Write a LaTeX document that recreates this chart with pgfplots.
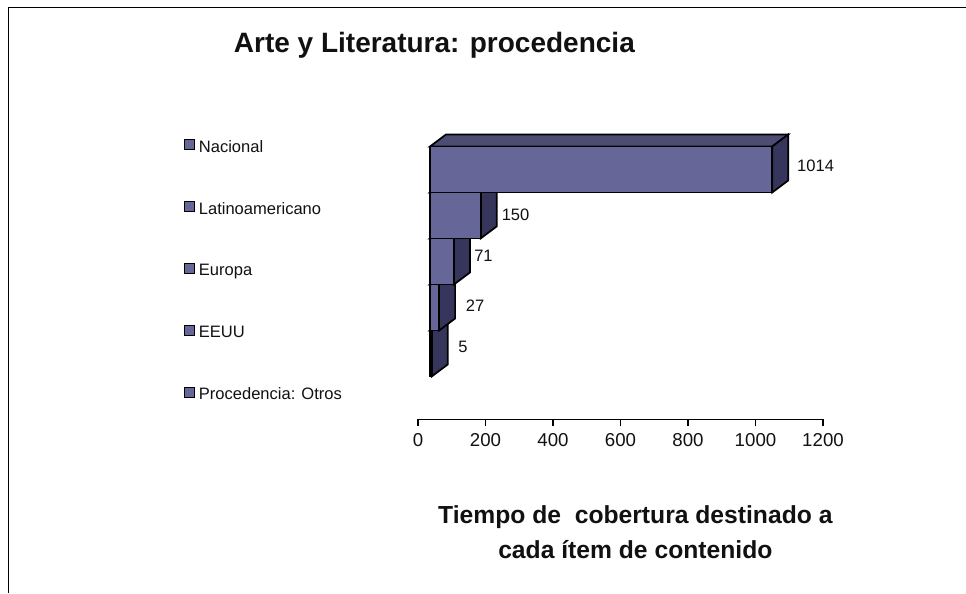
\documentclass[border=0pt]{standalone}
\usepackage{pgfplots}
\pgfplotsset{compat=1.18}
\usepackage{fontspec}
\setmainfont{Liberation Sans}
\definecolor{barfront}{HTML}{666699}
\definecolor{barside}{HTML}{36365C}
\definecolor{bartop}{HTML}{4D4D73}
\definecolor{txt}{HTML}{111111}
\begin{document}
\begin{tikzpicture}
\useasboundingbox (0pt,0pt) rectangle (724.5pt,-444.75pt);
\draw[black,line width=1.3pt] (6.4pt,-444.75pt) -- (6.4pt,-5.6pt) -- (724.5pt,-5.6pt);
\begin{axis}[
  at={(313.5pt,-314.6pt)},anchor=south west,
  scale only axis,width=303.75pt,height=222pt,
  xmin=0,xmax=1200,ymin=-1.4348,ymax=5,
  axis x line=bottom,axis y line=none,
  axis line style={-,black,line width=0.9pt},
  xtick={0,200,400,600,800,1000,1200},
  x tick style={black,line width=0.9pt},
  tick align=outside,
  major tick length=5pt,
  /pgf/number format/assume math mode=true,
  /pgf/number format/1000 sep={},
  tick label style={font=\fontsize{14pt}{16pt}\selectfont,text=txt},
  xticklabel style={yshift=-1.7pt},
  clip=false,
  legend style={at={(-0.5876,0.963)},anchor=north west,draw=none,fill=none,
    font=\fontsize{12.4pt}{14pt}\selectfont,text=txt,
    row sep=32.2pt,cells={anchor=west}},
  legend cell align=left,
  sqr/.style={legend image code/.code={\draw[fill=barfront,draw=black,line width=0.9pt] (0pt,-1.9pt) rectangle (7.5pt,5.6pt);\path[draw=none,fill=none] (0pt,0pt) -- (8.5pt,0pt);}},
]
% polygons: bar value + 35.6 offset of front face; depth 47.4 in x, 0.261 in y
\pgfplotsset{
  front/.style={fill=barfront,draw=black,line width=1.3pt,forget plot},
  side/.style={fill=barside,draw=black,line width=1.3pt,forget plot},
  top/.style={fill=bartop,draw=black,line width=1.3pt,forget plot},
}
% Procedencia: Otros = 5
\addplot[top]  coordinates {(35.6,0.5)(83,0.761)(88,0.761)(40.6,0.5)} -- cycle;
\addplot[side] coordinates {(40.6,0.5)(88,0.761)(88,-0.239)(40.6,-0.5)} -- cycle;
\addplot[front] coordinates {(35.6,0.5)(40.6,0.5)(40.6,-0.5)(35.6,-0.5)} -- cycle;
% EEUU = 27
\addplot[top]  coordinates {(35.6,1.5)(83,1.761)(110,1.761)(62.6,1.5)} -- cycle;
\addplot[side] coordinates {(62.6,1.5)(110,1.761)(110,0.761)(62.6,0.5)} -- cycle;
\addplot[front] coordinates {(35.6,1.5)(62.6,1.5)(62.6,0.5)(35.6,0.5)} -- cycle;
% Europa = 71
\addplot[top]  coordinates {(35.6,2.5)(83,2.761)(154,2.761)(106.6,2.5)} -- cycle;
\addplot[side] coordinates {(106.6,2.5)(154,2.761)(154,1.761)(106.6,1.5)} -- cycle;
\addplot[front] coordinates {(35.6,2.5)(106.6,2.5)(106.6,1.5)(35.6,1.5)} -- cycle;
% Latinoamericano = 150
\addplot[top]  coordinates {(35.6,3.5)(83,3.761)(233,3.761)(185.6,3.5)} -- cycle;
\addplot[side] coordinates {(185.6,3.5)(233,3.761)(233,2.761)(185.6,2.5)} -- cycle;
\addplot[front] coordinates {(35.6,3.5)(185.6,3.5)(185.6,2.5)(35.6,2.5)} -- cycle;
% Nacional = 1014
\addplot[top]  coordinates {(35.6,4.5)(83,4.761)(1097,4.761)(1049.6,4.5)} -- cycle;
\addplot[side] coordinates {(1049.6,4.5)(1097,4.761)(1097,3.761)(1049.6,3.5)} -- cycle;
\addplot[front] coordinates {(35.6,4.5)(1049.6,4.5)(1049.6,3.5)(35.6,3.5)} -- cycle;
% data labels
\addplot[draw=none,mark=none,forget plot,
  nodes near coords,point meta=explicit symbolic,
  nodes near coords align={anchor=center},
  every node near coord/.append style={font=\fontsize{12.4pt}{14pt}\selectfont,text=txt},
] table[meta=label] {
x y label
1178 4.08 1014
289 3.01 150
194 2.13 71
169 1.04 27
133 0.15 5
};
\addlegendimage{sqr}
\addlegendentry{Nacional}
\addlegendimage{sqr}
\addlegendentry{Latinoamericano}
\addlegendimage{sqr}
\addlegendentry{Europa}
\addlegendimage{sqr}
\addlegendentry{EEUU}
\addlegendimage{sqr}
\addlegendentry{Procedencia: Otros}
\end{axis}
\node[font=\bfseries\fontsize{21pt}{24pt}\selectfont,text=txt] at (325.8pt,-34.2pt) {Arte y Literatura: procedencia};
\node[font=\bfseries\fontsize{18.5pt}{26.25pt}\selectfont,text=txt,align=center] at (476.5pt,-399pt) {Tiempo de\ \ cobertura destinado a\\cada ítem de contenido};
\end{tikzpicture}
\end{document}
